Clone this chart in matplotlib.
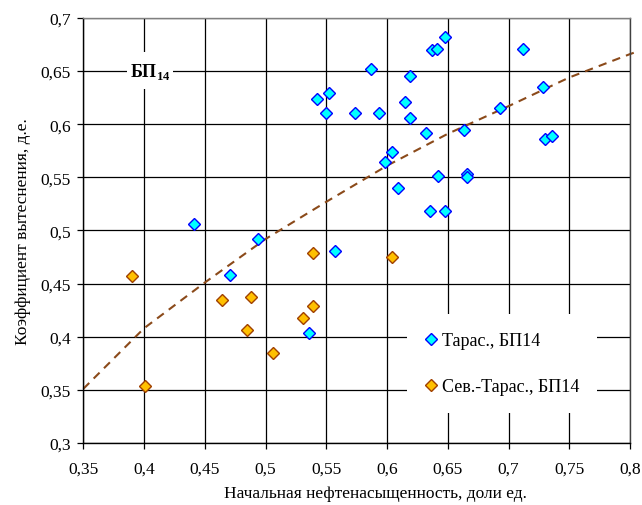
import matplotlib.pyplot as plt
from matplotlib.patches import Rectangle
from matplotlib.ticker import FuncFormatter, MultipleLocator

# Тарас., БП14
taras_x = [0.542, 0.552, 0.550, 0.574, 0.441, 0.494, 0.648, 0.637, 0.641, 0.712,
           0.587, 0.619, 0.615, 0.593, 0.619, 0.728, 0.693, 0.632, 0.663, 0.730,
           0.736, 0.604, 0.598, 0.642, 0.666, 0.666, 0.609, 0.635, 0.648, 0.471,
           0.557, 0.536]
taras_y = [0.624, 0.629, 0.611, 0.611, 0.506, 0.492, 0.682, 0.670, 0.671, 0.671,
           0.652, 0.645, 0.621, 0.611, 0.606, 0.635, 0.615, 0.592, 0.595, 0.586,
           0.589, 0.574, 0.564, 0.551, 0.553, 0.550, 0.540, 0.518, 0.518, 0.458,
           0.481, 0.404]

# Сев.-Тарас., БП14
sev_x = [0.390, 0.539, 0.464, 0.488, 0.539, 0.531, 0.485, 0.506, 0.401, 0.604]
sev_y = [0.457, 0.479, 0.435, 0.437, 0.429, 0.418, 0.406, 0.385, 0.354, 0.475]

# trend
trend_x = [0.35, 0.40, 0.45, 0.50, 0.55, 0.60, 0.65, 0.70, 0.75, 0.80, 0.805]
trend_y = [0.351, 0.408, 0.451, 0.492, 0.527, 0.561, 0.591, 0.617, 0.644, 0.666, 0.668]

plt.rcParams['font.family'] = ['Liberation Serif', 'DejaVu Serif']
plt.rcParams['mathtext.fontset'] = 'custom'
plt.rcParams['mathtext.rm'] = 'Liberation Serif'
plt.rcParams['mathtext.bf'] = 'Liberation Serif:bold'

fig = plt.figure(figsize=(6.42, 5.06), dpi=100)
ax = fig.add_axes([0.1298, 0.1225, 0.8515, 0.84])

ax.set_xlim(0.35, 0.8)
ax.set_ylim(0.3, 0.7)
ax.xaxis.set_major_locator(MultipleLocator(0.05))
ax.yaxis.set_major_locator(MultipleLocator(0.05))
fmt = FuncFormatter(lambda v, p: ('%g' % round(v, 3)).replace('.', ','))
ax.xaxis.set_major_formatter(fmt)
ax.yaxis.set_major_formatter(fmt)
ax.grid(True, color='black', lw=0.9)
ax.set_axisbelow(True)
ax.tick_params(direction='out', length=4, width=0.9, labelsize=12.5)
ax.tick_params(axis='x', pad=9)
ax.tick_params(axis='y', pad=5)
for s in ax.spines.values():
    s.set_linewidth(1.0)
ax.spines['top'].set_color('#808080')
ax.spines['right'].set_color('#404040')

ax.plot(trend_x, trend_y, ls=(0, (4, 3)), color='#8B4A1A', lw=1.5, clip_on=False, zorder=2)

ax.plot(taras_x, taras_y, ls='none', marker='D', ms=6, mfc='#00FFFF', mec='#0000FF',
        mew=1.0, label='Тарас., БП14', zorder=3)
ax.plot(sev_x, sev_y, ls='none', marker='D', ms=6, mfc='#FFC000', mec='#A04000',
        mew=1.0, label='Сев.-Тарас., БП14', zorder=3)

# white plate under the formation label
ax.add_patch(Rectangle((0.386, 0.633), 0.038, 0.035, facecolor='white',
                       edgecolor='none', zorder=2.5))
ax.text(0.405, 0.65, r'БП$_{\mathbf{14}}$', fontsize=13, fontweight='bold', ha='center',
        va='center', zorder=4)

leg = ax.legend(loc='center', bbox_to_anchor=(0.766, 0.187), frameon=True, fancybox=False,
                edgecolor='none', facecolor='white', framealpha=1, fontsize=13,
                handlelength=0.6, handletextpad=0.3, labelspacing=1.6, borderpad=1.0,
                borderaxespad=0)
leg.set_zorder(5)

ax.set_xlabel('Начальная нефтенасыщенность, доли ед.', fontsize=12.5, va='top')
ax.xaxis.set_label_coords(0.535, -0.098)
ax.set_ylabel('Коэффициент вытеснения, д.е.', fontsize=12.5, va='center')
ax.yaxis.set_label_coords(-0.11, 0.5)

fig.savefig('out.png', dpi=100)
